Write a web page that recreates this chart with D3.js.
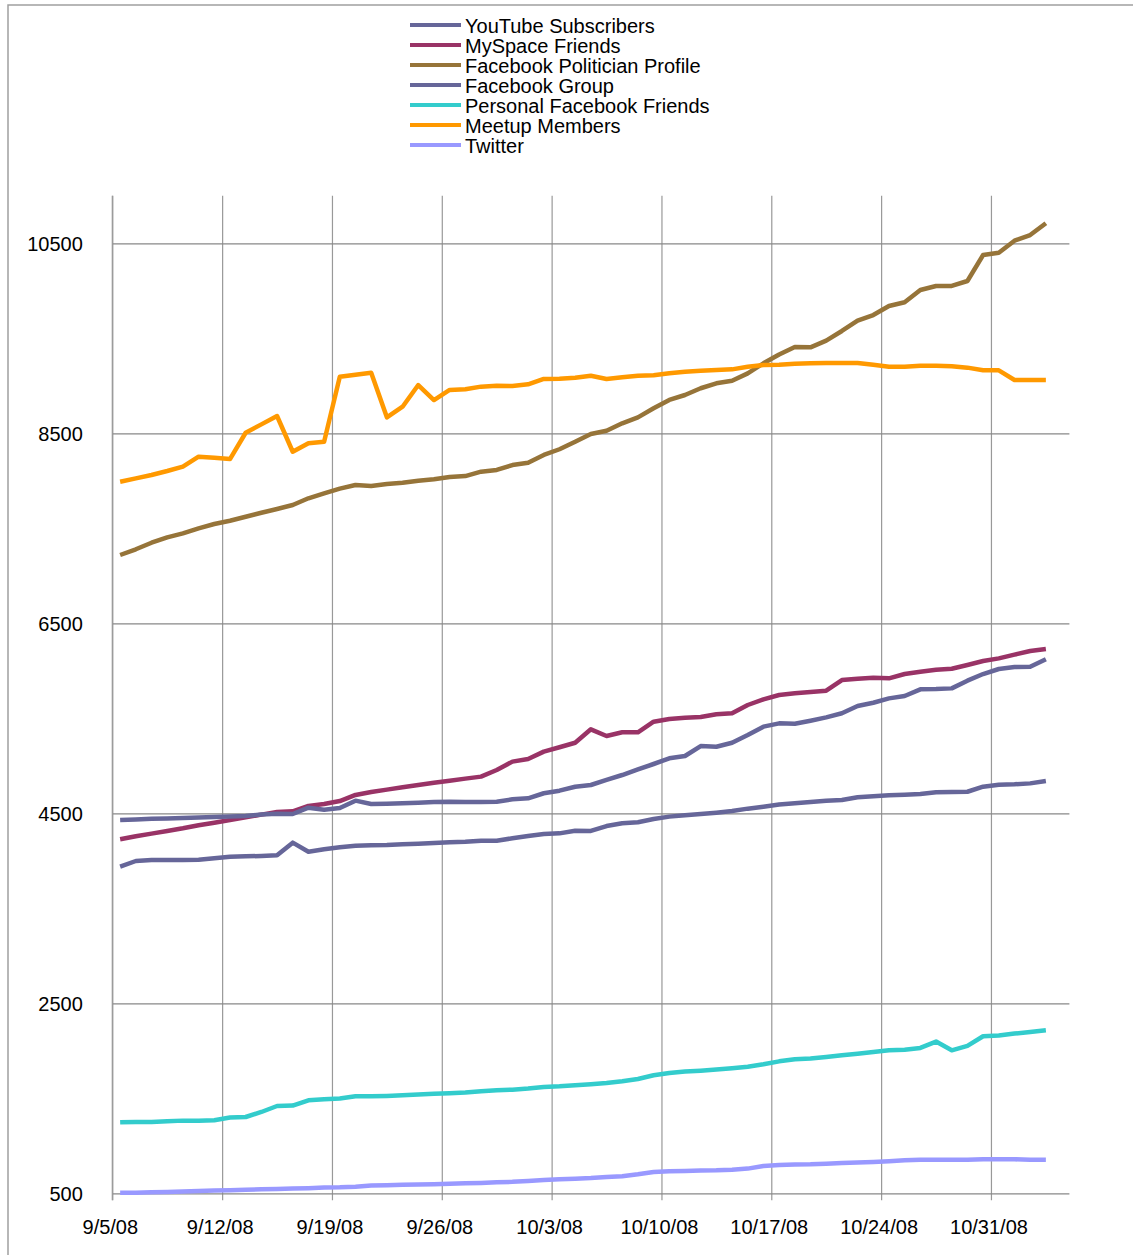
<!DOCTYPE html>
<html>
<head>
<meta charset="utf-8">
<script src="https://cdn.jsdelivr.net/npm/d3@7"></script>
<style>
  html, body { margin: 0; padding: 0; background: #fff; }
  svg { display: block; font-family: "Liberation Sans", Arial, sans-serif; }
</style>
</head>
<body>
<div id="chart"></div>
<script>
// daily readings, 9/5/08 through 11/3/08
const firstDay = new Date(2008, 8, 5);
const lastDay = new Date(2008, 10, 4); // exclusive
const dayList = d3.timeDay.range(firstDay, lastDay);

const seriesNames = [
  "YouTube Subscribers",
  "MySpace Friends",
  "Facebook Politician Profile",
  "Facebook Group",
  "Personal Facebook Friends",
  "Meetup Members",
  "Twitter"
];
const seriesColors = ["#666699", "#993366", "#967439", "#666699", "#33cccc", "#ff9900", "#9999ff"];

const youtube = [3938, 3998, 4008, 4008, 4008, 4012, 4026, 4043, 4047, 4051,
  4058, 4191, 4096, 4121, 4142, 4159, 4163, 4166, 4174, 4180,
  4187, 4196, 4201, 4212, 4212, 4237, 4261, 4282, 4289, 4317,
  4314, 4366, 4395, 4405, 4440, 4465, 4479, 4493, 4507, 4524,
  4549, 4570, 4592, 4605, 4619, 4633, 4640, 4668, 4679, 4689,
  4696, 4703, 4721, 4724, 4727, 4780, 4801, 4805, 4815, 4840];

const myspace = [4226, 4258, 4286, 4314, 4342, 4374, 4401, 4429, 4458, 4486,
  4514, 4521, 4577, 4598, 4629, 4693, 4724, 4749, 4774, 4798,
  4822, 4842, 4865, 4886, 4956, 5044, 5072, 5149, 5195, 5243,
  5384, 5314, 5353, 5353, 5464, 5493, 5507, 5514, 5542, 5553,
  5640, 5700, 5745, 5763, 5777, 5791, 5903, 5917, 5928, 5921,
  5966, 5991, 6012, 6022, 6061, 6103, 6131, 6170, 6208, 6230];

const fbProfile = [7219, 7279, 7348, 7405, 7447, 7500, 7545, 7580, 7622, 7664,
  7703, 7745, 7816, 7868, 7917, 7956, 7945, 7966, 7980, 8001,
  8016, 8040, 8050, 8096, 8114, 8166, 8191, 8272, 8332, 8412,
  8493, 8527, 8605, 8668, 8763, 8851, 8903, 8974, 9026, 9054,
  9131, 9237, 9330, 9408, 9405, 9475, 9577, 9686, 9745, 9840,
  9879, 10008, 10051, 10051, 10103, 10377, 10401, 10527, 10587, 10711];

const fbGroup = [4429, 4436, 4442, 4446, 4451, 4456, 4461, 4467, 4472, 4487,
  4496, 4493, 4559, 4538, 4556, 4633, 4598, 4601, 4605, 4612,
  4619, 4622, 4619, 4619, 4622, 4647, 4658, 4711, 4738, 4780,
  4798, 4851, 4903, 4963, 5019, 5079, 5103, 5208, 5201, 5243,
  5324, 5412, 5447, 5443, 5475, 5510, 5553, 5629, 5664, 5710,
  5735, 5805, 5808, 5815, 5896, 5966, 6019, 6040, 6043, 6121];

const personalFb = [1247, 1251, 1251, 1258, 1265, 1265, 1268, 1297, 1303, 1356,
  1419, 1423, 1479, 1489, 1497, 1521, 1521, 1525, 1532, 1539,
  1549, 1553, 1560, 1574, 1584, 1591, 1602, 1619, 1626, 1637,
  1647, 1660, 1679, 1703, 1742, 1767, 1781, 1791, 1802, 1816,
  1833, 1858, 1889, 1911, 1918, 1935, 1953, 1970, 1988, 2005,
  2012, 2030, 2097, 2005, 2051, 2153, 2160, 2181, 2198, 2216];

const meetup = [7990, 8026, 8061, 8103, 8149, 8254, 8243, 8229, 8506, 8594,
  8682, 8306, 8395, 8412, 9096, 9117, 9138, 8668, 8780, 9008,
  8850, 8956, 8963, 8991, 9001, 8998, 9016, 9072, 9075, 9085,
  9106, 9072, 9089, 9106, 9110, 9131, 9148, 9159, 9166, 9173,
  9201, 9219, 9222, 9233, 9237, 9240, 9240, 9240, 9222, 9201,
  9201, 9212, 9212, 9205, 9191, 9163, 9163, 9061, 9061, 9061];

const twitter = [505, 505, 510, 514, 520, 525, 529, 532, 537, 542,
  546, 550, 554, 560, 563, 570, 581, 584, 589, 593,
  596, 600, 605, 609, 616, 621, 630, 640, 647, 654,
  661, 672, 679, 700, 725, 732, 735, 739, 742, 749,
  760, 788, 798, 802, 805, 812, 819, 823, 830, 837,
  847, 854, 854, 854, 854, 858, 858, 858, 854, 854];

const yTicks = [500, 2500, 4500, 6500, 8500, 10500];

const allSeries = [youtube, myspace, fbProfile, fbGroup, personalFb, meetup, twitter];

const width = 1133, height = 1255;
const plot = { left: 112.3, right: 1069.4, top: 195.8, bottom: 1193.3 };

const svg = d3.select("#chart").append("svg")
  .attr("width", width)
  .attr("height", height);

svg.append("rect").attr("width", width).attr("height", height).attr("fill", "#fff");

// outer chart frame (only top and left edges are inside the picture)
svg.append("path")
  .attr("d", `M8,${height + 5}V5H${width + 5}`)
  .attr("fill", "none")
  .attr("stroke", "#a0a0a0")
  .attr("stroke-width", 1.5);

const x = d3.scaleTime()
  .domain([firstDay, new Date(2008, 10, 5)])
  .range([plot.left, plot.right]);

const y = d3.scaleLinear()
  .domain([500, 11000])
  .range([plot.bottom, plot.top]);

const weekTicks = d3.timeDay.range(firstDay, new Date(2008, 10, 5), 7);

// vertical gridlines + x axis
const xAxis = svg.append("g")
  .attr("transform", `translate(0,${plot.bottom})`)
  .call(d3.axisBottom(x)
    .tickValues(weekTicks)
    .tickFormat(d3.timeFormat("%-m/%-d/%y"))
    .tickSize(7)
    .tickPadding(0));
xAxis.select(".domain").remove();
xAxis.selectAll(".tick line")
  .attr("y1", plot.top - plot.bottom)
  .attr("stroke", "#999")
  .attr("stroke-width", 1.2);
xAxis.selectAll(".tick text")
  .attr("x", -2.5)
  .attr("y", 41)
  .attr("dy", null)
  .attr("fill", "#000")
  .style("font-size", "20px");

// horizontal gridlines + y axis
const yAxis = svg.append("g")
  .attr("transform", `translate(${plot.left},0)`)
  .call(d3.axisLeft(y)
    .tickValues(yTicks)
    .tickFormat(d3.format("d"))
    .tickSize(7)
    .tickPadding(0));
yAxis.select(".domain").remove();
yAxis.selectAll(".tick line")
  .attr("x2", plot.right - plot.left)
  .attr("stroke", "#888")
  .attr("stroke-width", 1.2);
yAxis.selectAll(".tick text")
  .attr("x", -29.5)
  .attr("dy", "0.36em")
  .attr("fill", "#000")
  .style("font-size", "20px");

// y axis line
svg.append("line")
  .attr("x1", plot.left).attr("x2", plot.left)
  .attr("y1", plot.top).attr("y2", plot.bottom + 7)
  .attr("stroke", "#999")
  .attr("stroke-width", 1.2);

const line = d3.line()
  .x((d, i) => x(d3.timeHour.offset(dayList[i], 12)))
  .y(d => y(d));

svg.append("g")
  .selectAll("path")
  .data(allSeries)
  .join("path")
  .attr("d", line)
  .attr("fill", "none")
  .attr("stroke", (d, i) => seriesColors[i])
  .attr("stroke-width", 4.5)
  .attr("stroke-linejoin", "round");

// legend
const legend = svg.append("g")
  .selectAll("g")
  .data(seriesNames)
  .join("g")
  .attr("transform", (d, i) => `translate(0,${25 + i * 20})`);

legend.append("line")
  .attr("x1", 410).attr("x2", 461)
  .attr("stroke", (d, i) => seriesColors[i])
  .attr("stroke-width", 4);

legend.append("text")
  .attr("x", 465)
  .attr("y", 7.5)
  .style("font-size", "20px")
  .text(d => d);
</script>
</body>
</html>
